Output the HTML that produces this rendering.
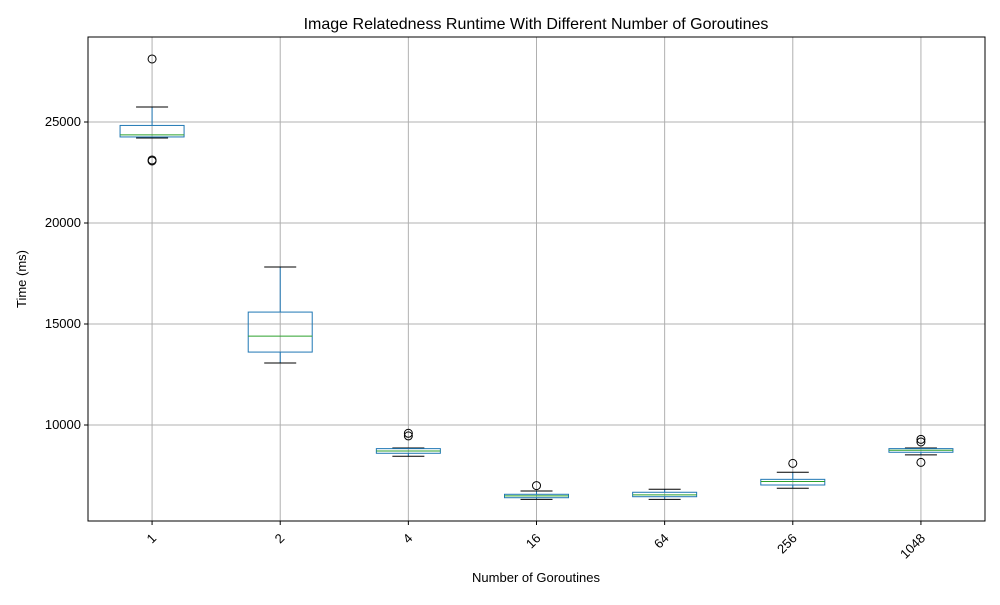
<!DOCTYPE html>
<html><head><meta charset="utf-8"><style>
body{margin:0;background:#fff;}
svg{font-family:"Liberation Sans","DejaVu Sans",sans-serif;}
</style></head><body>
<svg id="chart" width="1000" height="600">
<rect width="1000" height="600" fill="#fff"/>
<text x="536" y="29" text-anchor="middle" font-size="16">Image Relatedness Runtime With Different Number of Goroutines</text>
<text x="536" y="582" text-anchor="middle" font-size="13">Number of Goroutines</text>
<text transform="translate(26,279) rotate(-90)" text-anchor="middle" font-size="13">Time (ms)</text>
<g id="grid"></g><g id="marks"></g><g id="ticks"></g>
<rect x="88" y="37" width="897" height="484" fill="none" stroke="#000" stroke-width="1"/>
</svg>
<script>
const categories=["1","2","4","16","64","256","1048"];
const whiskerLow=[24210,13070,8450,6320,6320,6870,8520];
const q1=[24260,13610,8600,6400,6450,7030,8650];
const medians=[24360,14400,8710,6490,6540,7200,8750];
const q3=[24830,15590,8830,6570,6670,7310,8830];
const whiskerHigh=[25740,17820,8860,6735,6820,7660,8860];
const outliers=[[28120,23120,23070],[],[9590,9460],[7000],[],[8100],[9290,9160,8150]];
const yTicks=[10000,15000,20000,25000];
const NS="http://www.w3.org/2000/svg";
const L=88,R=985,T=37,B=521;
const yMin=10000-(B-425)/101*5000, yMax=25000+(122-T)/101*5000;
function y(v){return B-(v-yMin)/(yMax-yMin)*(B-T);}
const step=(R-L)/categories.length;
function x(i){return L+step*(i+0.5);}
function mk(tag,attrs,parent){const e=document.createElementNS(NS,tag);for(const k in attrs)e.setAttribute(k,attrs[k]);parent.appendChild(e);return e;}
const grid=document.getElementById('grid'),marks=document.getElementById('marks'),ticks=document.getElementById('ticks');
yTicks.forEach(t=>{
 const g=mk('line',{x1:L,x2:R,y1:y(t),y2:y(t),stroke:'#b0b0b0','stroke-width':1},grid);
 
 
 mk('line',{x1:L-4,x2:L,y1:y(t),y2:y(t),stroke:'#000'},ticks);
 const tx=mk('text',{x:L-7,y:y(t)+4,'text-anchor':'end','font-size':13},ticks);
 tx.textContent=t;
 
 
});
const hw=32,cw=16;
categories.forEach((c,i)=>{
 const cx=x(i);
 const g=mk('line',{x1:cx,x2:cx,y1:T,y2:B,stroke:'#b0b0b0'},grid);
 
 
 mk('line',{x1:cx,x2:cx,y1:B,y2:B+4,stroke:'#000'},ticks);
 const tx=mk('text',{transform:`translate(${cx+5},${B+18}) rotate(-45)`,'text-anchor':'end','font-size':13},ticks);
 tx.textContent=c;
 
 
 const grp=mk('g',{},marks);
 
 
 mk('line',{x1:cx,x2:cx,y1:y(q3[i]),y2:y(whiskerHigh[i]),stroke:'#1f77b4'},grp);
 mk('line',{x1:cx,x2:cx,y1:y(q1[i]),y2:y(whiskerLow[i]),stroke:'#1f77b4'},grp);
 mk('line',{x1:cx-cw,x2:cx+cw,y1:y(whiskerHigh[i]),y2:y(whiskerHigh[i]),stroke:'#000'},grp);
 mk('line',{x1:cx-cw,x2:cx+cw,y1:y(whiskerLow[i]),y2:y(whiskerLow[i]),stroke:'#000'},grp);
 mk('rect',{x:cx-hw,y:y(q3[i]),width:2*hw,height:Math.max(1,y(q1[i])-y(q3[i])),fill:'none',stroke:'#1f77b4'},grp);
 mk('line',{x1:cx-hw,x2:cx+hw,y1:y(medians[i]),y2:y(medians[i]),stroke:'#2ca02c'},grp);
 outliers[i].forEach(o=>{
  const p=mk('circle',{cx:cx,cy:y(o),r:4,fill:'none',stroke:'#000'},grp);
  
  
 });
});
</script>
</body></html>
